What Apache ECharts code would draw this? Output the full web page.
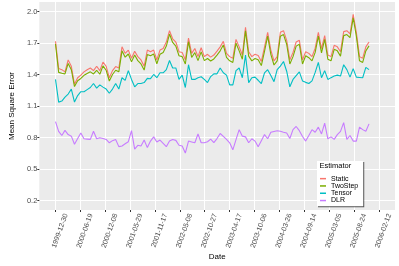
<!DOCTYPE html>
<html><head><meta charset="utf-8">
<script src="https://cdn.jsdelivr.net/npm/echarts@6/dist/echarts.min.js"></script>
<style>html,body{margin:0;padding:0;background:#fff}#c{width:399px;height:266px}</style>
</head><body><div id="c"></div>
<script>
const tickLabels = ['1999-12-30','2000-06-19','2000-12-08','2001-05-29','2001-11-17','2002-05-08','2002-10-27','2003-04-17','2003-10-06','2004-03-26','2004-09-14','2005-03-05','2005-08-24','2006-02-12'];
const yTicks = [0.2, 0.5, 0.8, 1.1, 1.4, 1.7, 2.0];
const startDate = '1999-12-30';
const stepDays = 21.9;
const seriesNames = ['Static', 'TwoStep', 'Tensor', 'DLR'];

const staticMSE = [1.716,1.456,1.446,1.425,1.539,1.478,1.307,1.369,1.394,1.425,
1.445,1.462,1.437,1.478,1.437,1.518,1.478,1.369,1.437,1.475,
1.462,1.663,1.601,1.632,1.555,1.622,1.570,1.539,1.478,1.632,
1.617,1.632,1.539,1.632,1.647,1.709,1.817,1.740,1.709,1.617,
1.610,1.539,1.747,1.601,1.647,1.570,1.654,1.570,1.592,1.565,
1.585,1.622,1.663,1.716,1.601,1.570,1.555,1.734,1.663,1.585,
1.849,1.617,1.570,1.592,1.580,1.524,1.660,1.802,1.632,1.530,
1.570,1.802,1.817,1.725,1.539,1.610,1.709,1.725,1.539,1.617,
1.601,1.570,1.650,1.802,1.647,1.771,1.585,1.570,1.678,1.663,
1.617,1.808,1.817,1.787,1.972,1.802,1.570,1.555,1.663,1.709];

const twoStepMSE = [1.690,1.420,1.412,1.405,1.505,1.445,1.285,1.340,1.362,1.392,
1.410,1.425,1.405,1.440,1.402,1.482,1.440,1.338,1.400,1.440,
1.425,1.625,1.565,1.595,1.520,1.585,1.532,1.500,1.442,1.590,
1.578,1.595,1.502,1.592,1.610,1.670,1.785,1.705,1.670,1.578,
1.570,1.500,1.712,1.562,1.608,1.532,1.615,1.532,1.552,1.528,
1.548,1.585,1.625,1.680,1.562,1.530,1.515,1.698,1.625,1.545,
1.815,1.575,1.530,1.552,1.540,1.485,1.620,1.765,1.592,1.490,
1.530,1.765,1.780,1.688,1.500,1.570,1.670,1.688,1.500,1.578,
1.560,1.530,1.610,1.765,1.605,1.735,1.545,1.530,1.640,1.625,
1.575,1.770,1.780,1.750,1.940,1.765,1.530,1.515,1.625,1.672];

const tensorMSE = [1.353,1.137,1.147,1.184,1.214,1.261,1.137,1.199,1.236,1.236,
1.256,1.276,1.314,1.270,1.301,1.280,1.261,1.221,1.261,1.314,
1.261,1.369,1.344,1.437,1.353,1.283,1.314,1.314,1.323,1.363,
1.360,1.400,1.369,1.416,1.416,1.446,1.533,1.462,1.462,1.353,
1.394,1.276,1.493,1.353,1.353,1.369,1.378,1.353,1.323,1.380,
1.406,1.406,1.462,1.416,1.394,1.301,1.301,1.437,1.462,1.369,
1.585,1.323,1.369,1.375,1.345,1.314,1.416,1.446,1.390,1.332,
1.446,1.480,1.524,1.431,1.283,1.353,1.390,1.425,1.339,1.325,
1.314,1.339,1.420,1.515,1.369,1.437,1.353,1.370,1.385,1.394,
1.385,1.493,1.446,1.375,1.456,1.375,1.372,1.369,1.468,1.446];

const dlrMSE = [0.952,0.859,0.819,0.868,0.828,0.813,0.736,0.790,0.843,0.788,
0.785,0.782,0.859,0.788,0.797,0.791,0.782,0.750,0.770,0.782,
0.713,0.720,0.740,0.760,0.865,0.689,0.726,0.720,0.776,0.704,
0.766,0.806,0.757,0.776,0.745,0.713,0.766,0.782,0.773,0.726,
0.720,0.652,0.766,0.758,0.750,0.834,0.750,0.750,0.760,0.785,
0.752,0.790,0.838,0.810,0.782,0.750,0.683,0.780,0.875,0.813,
0.806,0.750,0.788,0.766,0.713,0.770,0.828,0.788,0.850,0.858,
0.865,0.859,0.850,0.843,0.791,0.875,0.905,0.865,0.810,0.766,
0.819,0.875,0.850,0.899,0.834,0.936,0.788,0.806,0.782,0.828,
0.859,0.942,0.782,0.819,0.766,0.766,0.899,0.875,0.859,0.930];

const colors = ['#F8766D', '#7CAE00', '#00BFC4', '#C77CFF'];

const DAY = 86400000;
const toMs = s => { const p = s.split('-').map(Number); return Date.UTC(p[0], p[1] - 1, p[2]); };
const t0 = toMs(startDate);
const dates = staticMSE.map((_, i) => t0 + i * stepDays * DAY);
const tickMs = tickLabels.map(toMs);
const lo = tickMs[0], hi = tickMs[tickMs.length - 1], span = hi - lo;
const xMin = lo - 0.05 * span, xMax = hi + 0.05 * span;
const gridL = 25, gridR = 4, gridT = 2, gridB = 50;
const plotW = 399 - gridL - gridR;
const msPerPx = (xMax - xMin) / plotW;
const labelShift = 11 * msPerPx;
const labelVals = tickMs.map(t => t + labelShift);

const allSeries = [staticMSE, twoStepMSE, tensorMSE, dlrMSE];
const FONT = 'Liberation Sans, Arial, sans-serif';

const chart = echarts.init(document.getElementById('c'), null, { renderer: 'canvas' });
chart.setOption({
  animation: false,
  textStyle: { fontFamily: FONT },
  grid: { left: gridL, right: gridR, top: gridT, bottom: gridB, show: true, backgroundColor: '#EBEBEB', borderWidth: 0 },
  xAxis: [{
    type: 'value', min: xMin, max: xMax,
    axisLine: { show: false },
    axisTick: { show: true, length: 2, lineStyle: { color: '#333333', width: 1 }, customValues: tickMs },
    axisLabel: { show: false },
    splitLine: { show: true, lineStyle: { color: '#FFFFFF', width: 1 } },
    name: 'Date', nameLocation: 'middle', nameGap: 43,
    nameTextStyle: { fontSize: 8, color: '#000000', fontFamily: FONT }
  }, {
    type: 'value', min: xMin, max: xMax, position: 'bottom',
    axisLine: { show: false }, axisTick: { show: false }, splitLine: { show: false },
    axisLabel: {
      show: true, customValues: labelVals, rotate: 70, margin: 4, fontSize: 7, color: '#4D4D4D',
      fontFamily: FONT,
      formatter: v => {
        let bi = 0, bd = Infinity;
        labelVals.forEach((lv, i) => { const d = Math.abs(lv - v); if (d < bd) { bd = d; bi = i; } });
        return tickLabels[bi];
      }
    }
  }],
  yAxis: {
    type: 'value', min: 0.11, max: 2.09,
    axisLine: { show: false },
    axisTick: { show: true, length: 2, lineStyle: { color: '#333333', width: 1 }, customValues: yTicks },
    axisLabel: { show: true, customValues: yTicks, margin: 2, fontSize: 7.5, color: '#4D4D4D', formatter: v => v.toFixed(1),
      fontFamily: FONT },
    splitLine: { show: true, lineStyle: { color: '#FFFFFF', width: 1 } },
    name: 'Mean Square Error', nameLocation: 'middle', nameGap: 21,
    nameTextStyle: { fontSize: 8, color: '#000000', fontFamily: FONT }
  },
  legend: {
    orient: 'vertical', left: 317, top: 161,
    padding: [14, 5, 2, 3],
    itemGap: 0, itemWidth: 6, itemHeight: 1.5, icon: 'rect',
    backgroundColor: '#FFFFFF',
    shadowColor: 'rgba(0,0,0,0.65)', shadowBlur: 0, shadowOffsetX: 1, shadowOffsetY: 1,
    textStyle: { fontSize: 7, color: '#000000', lineHeight: 7.3, fontFamily: FONT },
    data: seriesNames
  },
  graphic: [{
    type: 'text', left: 319.5, top: 162, z: 100,
    style: { text: 'Estimator', fontSize: 7.5, fill: '#000000', fontFamily: FONT }
  }],
  series: seriesNames.map((n, si) => ({
    name: n, type: 'line', xAxisIndex: 0, yAxisIndex: 0,
    showSymbol: false, symbol: 'none',
    lineStyle: { width: 1.1, color: colors[si] },
    itemStyle: { color: colors[si] },
    data: allSeries[si].map((v, i) => [dates[i], v])
  }))
});
</script></body></html>
